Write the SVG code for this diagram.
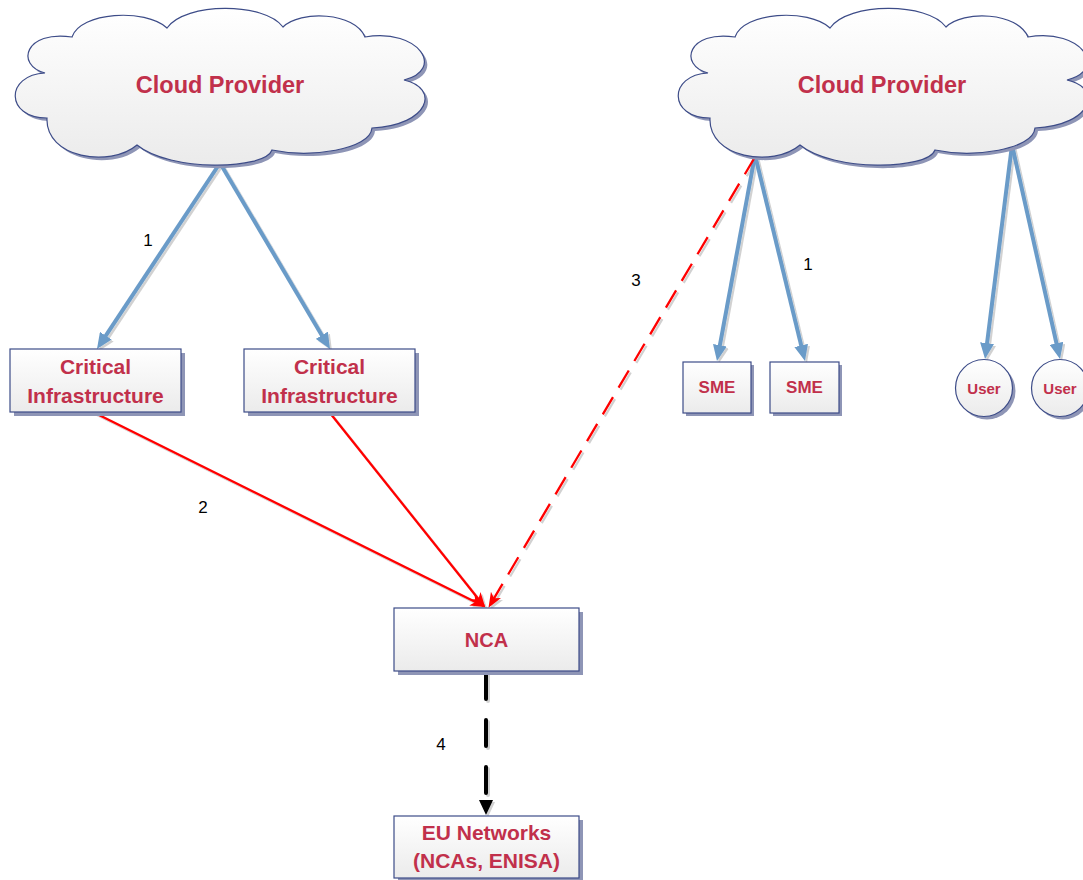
<svg xmlns="http://www.w3.org/2000/svg" width="1083" height="880" viewBox="0 0 1083 880">
<defs>
<linearGradient id="gFill" x1="0" y1="0" x2="0" y2="1">
<stop offset="0" stop-color="#ffffff"/>
<stop offset="1" stop-color="#ebebeb"/>
</linearGradient>
<path id="cloudShape" d="M 72,37 C 80,12 145,8 167,28 C 185,2 265,2 283,27 C 300,10 355,12 365,37 C 420,28 445,70 404,80 C 440,88 430,125 372,128 C 370,150 310,158 272,150 C 265,170 170,172 137,145 C 110,168 45,158 47,118 C 5,118 5,75 45,73 C 15,65 25,30 72,37 Z"/>
<marker id="arrBlue" markerUnits="userSpaceOnUse" markerWidth="16" markerHeight="14" viewBox="0 0 16 14" refX="6" refY="7" orient="auto">
<path d="M0,0 L16,7 L0,14 Z" fill="#6a9bc8"/>
</marker>
<marker id="arrRed" markerUnits="userSpaceOnUse" markerWidth="15" markerHeight="12" viewBox="0 0 15 12" refX="13" refY="6" orient="auto">
<path d="M0,0 L15,6 L0,12 L4,6 Z" fill="#ff0000"/>
</marker>
<marker id="arrBlack" markerUnits="userSpaceOnUse" markerWidth="15" markerHeight="14" viewBox="0 0 15 14" refX="0" refY="7" orient="auto">
<path d="M0,0 L15,7 L0,14 Z" fill="#000000"/>
</marker>
<filter id="lineShadow" x="-10%" y="-10%" width="120%" height="120%">
<feDropShadow dx="2" dy="2" stdDeviation="0.6" flood-color="#000000" flood-opacity="0.18"/>
</filter>
</defs>
<style>
.shadow { fill: #8e95b6; }
.shape { fill: url(#gFill); stroke: #3d4c88; stroke-width: 1.2; }
.lbl { font-family: "Liberation Sans", Arial, sans-serif; font-weight: bold; fill: #c1304b; text-anchor: middle; }
.num { font-family: "Liberation Sans", Arial, sans-serif; font-size: 17px; fill: #000000; text-anchor: middle; }
.blue { stroke: #6a9bc8; stroke-width: 4; fill: none; marker-end: url(#arrBlue); }
.red { stroke: #ff0000; stroke-width: 2.3; fill: none; marker-end: url(#arrRed); }
</style>
<rect width="1083" height="880" fill="#ffffff"/>

<g id="connectors" filter="url(#lineShadow)">
<line class="blue" x1="220" y1="163" x2="102.5" y2="340.7"/>
<line class="blue" x1="220" y1="163" x2="324.9" y2="340.4"/>
<line class="blue" x1="755" y1="155" x2="718.8" y2="351.2"/>
<line class="blue" x1="755" y1="155" x2="802.6" y2="351.3"/>
<line class="blue" x1="1012" y1="145" x2="986.3" y2="349.1"/>
<line class="blue" x1="1012" y1="145" x2="1057.8" y2="349.2"/>
<line class="red" x1="95" y1="413" x2="483.5" y2="606"/>
<line class="red" x1="330" y1="413" x2="484" y2="606"/>
<line class="red" x1="755" y1="157" x2="489.5" y2="606" stroke-width="2.6" stroke-dasharray="20 11"/>
<line x1="486" y1="673" x2="486" y2="800" stroke="#000000" stroke-width="4" stroke-linecap="round" stroke-dasharray="26 21" marker-end="url(#arrBlack)"/>
</g>

<g id="labels">
<text class="num" x="148" y="246">1</text>
<text class="num" x="203" y="513">2</text>
<text class="num" x="636" y="286">3</text>
<text class="num" x="808" y="270">1</text>
<text class="num" x="441" y="750">4</text>
</g>

<g id="cloud-left">
<use href="#cloudShape" class="shadow" transform="translate(3,3)"/>
<use href="#cloudShape" class="shape"/>
<text class="lbl" x="220" y="93" font-size="23.5">Cloud Provider</text>
</g>

<g id="cloud-right">
<use href="#cloudShape" class="shadow" transform="translate(666,3)"/>
<use href="#cloudShape" class="shape" transform="translate(663,0)"/>
<text class="lbl" x="882" y="93" font-size="23.5">Cloud Provider</text>
</g>

<g id="ci-left">
<rect class="shadow" x="14" y="353" width="171" height="63"/>
<rect class="shape" x="10" y="349" width="171" height="63"/>
<text class="lbl" x="95.5" y="374" font-size="21">Critical</text>
<text class="lbl" x="95.5" y="403" font-size="21">Infrastructure</text>
</g>

<g id="ci-right">
<rect class="shadow" x="248" y="353" width="171" height="63"/>
<rect class="shape" x="244" y="349" width="171" height="63"/>
<text class="lbl" x="329.5" y="374" font-size="21">Critical</text>
<text class="lbl" x="329.5" y="403" font-size="21">Infrastructure</text>
</g>

<g id="sme-1">
<rect class="shadow" x="686" y="365" width="68" height="51"/>
<rect class="shape" x="683" y="362" width="68" height="51"/>
<text class="lbl" x="717" y="393" font-size="17">SME</text>
</g>

<g id="sme-2">
<rect class="shadow" x="773" y="365" width="69" height="51"/>
<rect class="shape" x="770" y="362" width="69" height="51"/>
<text class="lbl" x="804.5" y="393" font-size="17">SME</text>
</g>

<g id="user-1">
<circle class="shadow" cx="987" cy="391" r="28.5"/>
<circle class="shape" cx="984" cy="388" r="28.5"/>
<text class="lbl" x="984" y="394" font-size="15">User</text>
</g>

<g id="user-2">
<circle class="shadow" cx="1063" cy="391" r="28.5"/>
<circle class="shape" cx="1060" cy="388" r="28.5"/>
<text class="lbl" x="1060" y="394" font-size="15">User</text>
</g>

<g id="nca">
<rect class="shadow" x="398" y="612" width="185" height="63"/>
<rect class="shape" x="394" y="608" width="185" height="63"/>
<text class="lbl" x="486.5" y="647" font-size="20">NCA</text>
</g>

<g id="eu-networks">
<rect class="shadow" x="398" y="820" width="185" height="62"/>
<rect class="shape" x="394" y="816" width="185" height="62"/>
<text class="lbl" x="486.5" y="840" font-size="21">EU Networks</text>
<text class="lbl" x="486.5" y="868" font-size="21">(NCAs, ENISA)</text>
</g>
</svg>
